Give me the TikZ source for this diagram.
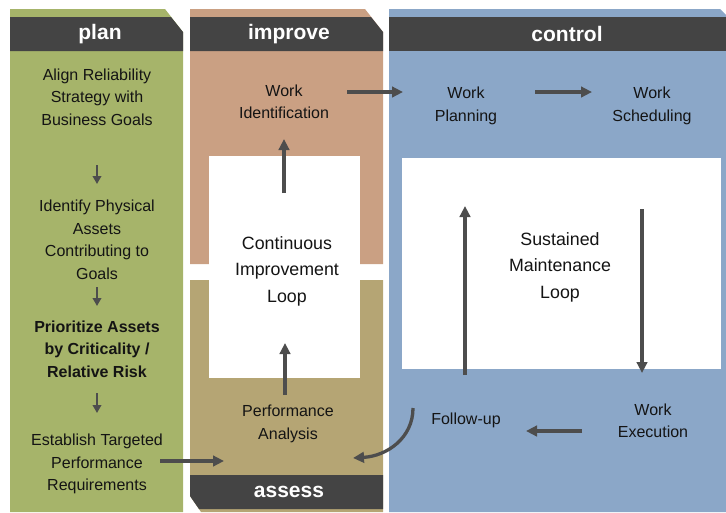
\documentclass[tikz,border=0pt]{standalone}
\usepackage{fontspec}
\setmainfont{Liberation Sans}
\usetikzlibrary{arrows.meta}

\definecolor{plangreen}{RGB}{166,180,106}
\definecolor{improvesalmon}{RGB}{202,160,131}
\definecolor{assesstan}{RGB}{181,165,116}
\definecolor{controlblue}{RGB}{139,167,200}
\definecolor{headgray}{RGB}{68,68,68}
\definecolor{arrowgray}{RGB}{77,77,77}
\definecolor{textgray}{RGB}{20,20,20}

\begin{document}
\begin{tikzpicture}[
        x=1pt, y=-1pt,
        step text/.style={align=center, inner sep=0pt, text=textgray,
            font=\fontsize{16}{22.5}\selectfont},
        loop text/.style={align=center, inner sep=0pt, text=textgray,
            font=\fontsize{17.8}{26.5}\selectfont},
        head text/.style={inner sep=0pt, text=white,
            font=\fontsize{21}{24}\selectfont\bfseries},
        flow/.style={draw=arrowgray, line width=3.3pt,
            -{Triangle[length=11pt,width=10.5pt]}},
        small flow/.style={draw=arrowgray, line width=2.2pt,
            -{Triangle[length=8pt,width=8.5pt]}},
    ]
    \useasboundingbox (0,0) rectangle (726,512);
    % columns
    \fill[plangreen] (10,9) -- (165,9) -- (183,32) -- (183,512) -- (10,512) -- cycle;
    \fill[improvesalmon] (190,9) -- (365,9) -- (383,32) -- (383,264) -- (190,264) -- cycle;
    \fill[assesstan] (190,280) -- (383,280) -- (383,512) -- (201,512) -- (190,496) -- cycle;
    \fill[controlblue] (389,9) -- (720,9) -- (730,19) -- (730,512) -- (389,512) -- cycle;
    % header bars
    \fill[headgray] (10,17) -- (171,17) -- (183,32) -- (183,51) -- (10,51) -- cycle;
    \fill[headgray] (190,17) -- (371,17) -- (383,32) -- (383,51) -- (190,51) -- cycle;
    \fill[headgray] (389,17) -- (730,17) -- (730,51) -- (389,51) -- cycle;
    \fill[headgray] (190,475) -- (383,475) -- (383,509) -- (199,509) -- (190,496) -- cycle;
    % loop boxes
    \fill[white] (209,156) rectangle (360,378);
    \fill[white] (402,158) rectangle (721,369);

    \node[head text] (plan) at (100,34) {plan};
    \node[head text] (improve) at (289,34) {improve};
    \node[head text] (control) at (567,34) {control};
    \node[head text] (assess) at (289,492) {assess};

    \node[step text] (align) at (97,97) {Align Reliability\\Strategy with\\Business Goals};
    \node[step text] (identify) at (97,240) {Identify Physical\\Assets\\Contributing to\\Goals};
    \node[step text, font=\fontsize{16}{22.5}\selectfont\bfseries] (prioritize) at (97,349)
        {Prioritize Assets\\by Criticality /\\Relative Risk};
    \node[step text] (establish) at (97,464) {Establish Targeted\\Performance\\Requirements};

    \node[step text] (workid) at (284,102) {Work\\Identification};
    \node[step text] (workplan) at (466,106) {Work\\Planning};
    \node[step text] (worksched) at (652,106) {Work\\Scheduling};
    \node[step text] (workexec) at (653,421) {Work\\Execution};
    \node[step text] (followup) at (466,420) {Follow-up};
    \node[step text] (perf) at (288,424) {Performance\\Analysis};

    \node[loop text] (ciloop) at (287,271) {Continuous\\Improvement\\Loop};
    \node[loop text] (smloop) at (560,267) {Sustained\\Maintenance\\Loop};

    % plan steps
    \draw[small flow] ([shift={(0,68)}]align.center) -- ([shift={(0,-56)}]identify.center);
    \draw[small flow] ([shift={(0,47)}]identify.center) -- ([shift={(0,-43)}]prioritize.center);
    \draw[small flow] ([shift={(0,44)}]prioritize.center) -- ([shift={(0,-51)}]establish.center);

    % improvement loop
    \draw[flow] ([shift={(63,-3)}]establish.center) -- ([shift={(-64,37)}]perf.center);
    \draw[flow] ([shift={(-3,-29)}]perf.center) -- ([shift={(-2,72)}]ciloop.center);
    \draw[flow] ([shift={(-3,-78)}]ciloop.center) -- ([shift={(0,37)}]workid.center);
    \draw[flow] ([shift={(63,-10)}]workid.center) -- ([shift={(-63,-14)}]workplan.center);

    % maintenance loop
    \draw[flow] ([shift={(69,-14)}]workplan.center) -- ([shift={(-60,-14)}]worksched.center);
    \draw[flow] ([shift={(-10,103)}]worksched.center) -- ([shift={(-11,-48)}]workexec.center);
    \draw[flow] ([shift={(-71,10)}]workexec.center) -- ([shift={(60,11)}]followup.center);
    \draw[flow] ([shift={(-1,-45)}]followup.center) -- ([shift={(-1,100)}]workplan.center);
    \draw[flow] ([shift={(-53,-12)}]followup.center) .. controls +(0,30) and +(34,-2)
        .. ([shift={(65,34)}]perf.center);
\end{tikzpicture}
\end{document}
